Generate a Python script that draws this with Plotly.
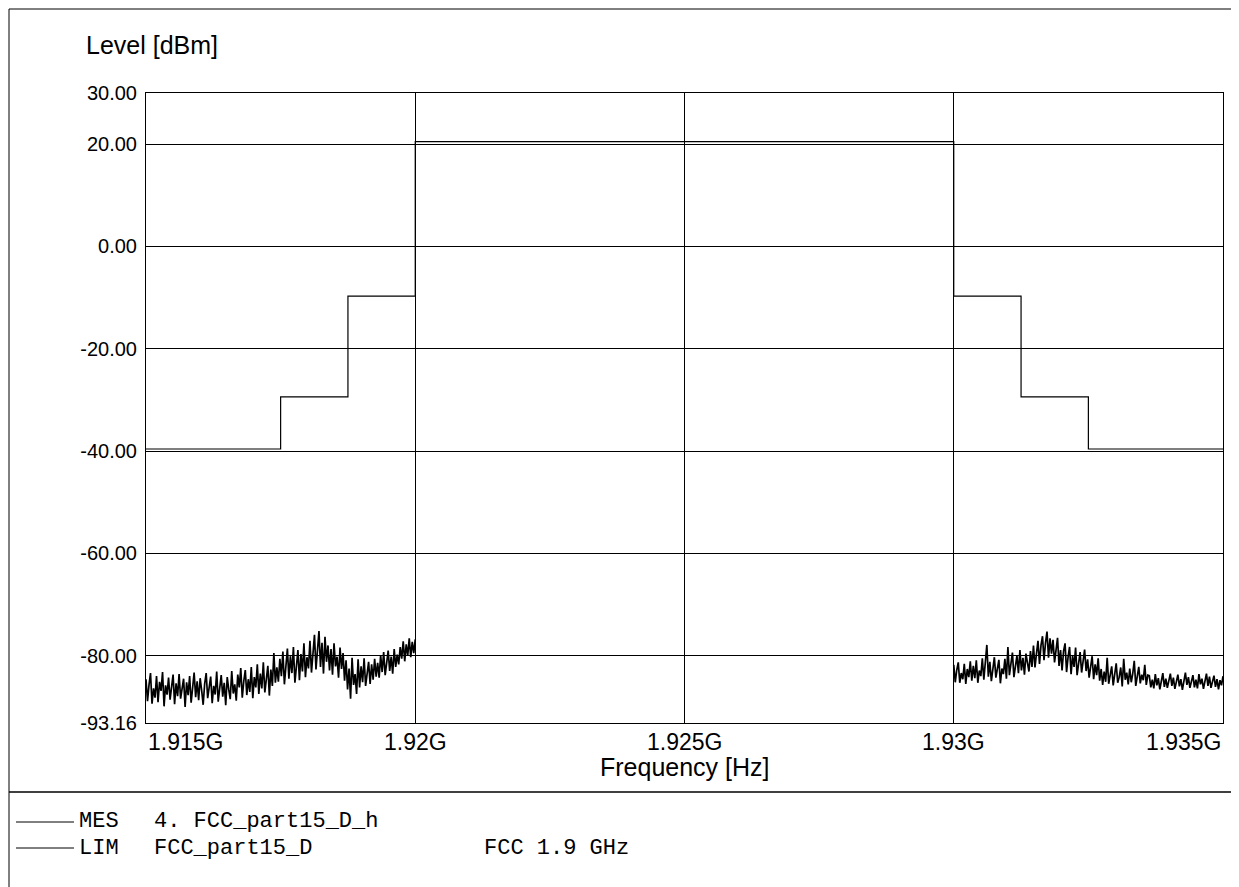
import numpy as np
import plotly.graph_objects as go

# ---------------- data ----------------
y_tickvals = [30, 20, 0, -20, -40, -60, -80, -93.16]
y_ticktext = ["30.00", "20.00", "0.00", "-20.00", "-40.00", "-60.00", "-80.00", "-93.16"]
x_tickvals = [1.915e9, 1.92e9, 1.925e9, 1.93e9, 1.935e9]
x_ticktext = ["1.915G", "1.92G", "1.925G", "1.93G", "1.935G"]

# limit line (step, 'hv')
lim_freq = [1.915e9, 1.9175e9, 1.91875e9, 1.92e9, 1.93e9, 1.93125e9, 1.9325e9, 1.935e9]
lim_level = [-39.6, -29.4, -9.7, 20.5, -9.7, -29.4, -39.6, -39.6]

# measured trace, lower band 1.915 - 1.92 GHz
mes_left_start = 1.915e9
mes_left_stop = 1.92e9
mes_left_level = [
    -84.6, -88.9, -85.7, -83.4, -89.4, -86.4, -88.2, -84.0, -89.1, -85.1,
    -86.9, -83.2, -89.9, -85.8, -87.6, -84.3, -88.6, -86.0, -83.7, -89.5,
    -85.4, -87.9, -83.6, -88.4, -86.7, -84.5, -90.0, -85.2, -87.7, -84.0,
    -89.2, -86.1, -83.3, -88.1, -85.0, -88.7, -84.4, -86.8, -89.6, -85.5,
    -83.4, -88.3, -86.3, -84.1, -89.3, -85.9, -87.6, -83.1, -89.0, -86.5,
    -83.8, -88.0, -85.3, -89.7, -84.2, -86.6, -88.5, -83.0, -87.4, -85.6,
    -88.8, -83.7, -86.2, -82.4, -88.2, -85.0,
    -82.8, -87.7, -84.6, -87.1, -82.2, -88.3, -84.2, -86.2, -81.7, -87.5,
    -83.5, -86.4, -81.3, -87.2, -84.0, -82.0, -87.8, -82.7, -85.9, -79.5,
    -85.3, -82.3,
    -85.1, -80.6, -84.0, -79.2, -85.6, -81.8, -78.6, -84.5, -80.1, -83.4,
    -78.3, -85.3, -81.3, -78.9, -84.8, -79.7, -83.1, -77.6, -84.2, -80.3,
    -82.5,
    -77.1, -83.3, -78.5, -75.9, -82.7, -79.6, -75.2, -82.2, -77.5, -83.5,
    -76.3, -81.2, -78.0, -82.9,
    -78.7, -83.7, -77.6, -82.1, -80.2, -84.3, -78.4, -82.6, -79.5, -84.9,
    -80.9, -86.6, -82.5, -88.4, -80.4, -85.7, -83.6, -87.5, -80.7, -86.2,
    -82.1, -85.2, -80.5, -85.9, -83.1, -81.2, -85.5, -81.7, -84.7, -80.6,
    -84.1, -81.4,
    -84.3, -79.9, -83.2, -79.3, -83.8, -80.7, -79.0, -83.0, -80.2, -83.5,
    -78.7, -82.2, -79.8,
    -81.7, -78.3, -80.6, -77.2, -81.1, -77.8, -80.0, -76.6, -80.3, -77.3,
    -79.5, -76.8,
]

# measured trace, upper band 1.93 - 1.935 GHz
mes_right_start = 1.93e9
mes_right_stop = 1.935e9
mes_right_level = [
    -81.8, -85.2, -82.8, -81.3, -85.3, -83.4, -84.6, -81.6, -85.5, -82.6,
    -84.2, -81.1, -84.9,
    -82.0, -84.4, -80.9, -85.3, -82.9, -84.0, -80.5, -84.7, -81.7, -77.9,
    -84.1, -81.2, -85.0, -82.4, -80.3, -84.3, -82.8, -80.8, -85.4, -82.5,
    -83.6, -80.6,
    -84.5, -78.3, -83.8, -81.0, -79.4, -84.2, -81.8, -80.0, -83.4, -78.9,
    -82.9, -80.4, -83.7, -79.6, -81.4, -83.1, -79.1, -82.2,
    -78.0, -82.3, -79.6, -77.1, -81.6, -78.0, -76.2, -80.9, -77.5, -75.3,
    -80.4, -76.6, -79.6, -76.9, -81.3, -78.5,
    -76.5, -82.0, -78.9, -82.9, -79.1, -77.6, -83.2, -80.3, -78.3, -83.6,
    -80.0, -82.2, -78.4, -83.8, -80.9, -79.3, -83.3, -81.2, -78.8, -83.0,
    -80.7, -84.3, -82.6, -80.1, -84.6, -81.7, -83.8, -80.5,
    -84.9, -82.6, -85.7, -83.1, -85.1, -80.4, -85.5, -83.6, -82.1, -85.8,
    -83.9, -81.5, -85.3, -84.2, -82.3, -86.0, -80.6, -84.7, -83.3, -85.6,
    -82.5, -85.2, -83.5, -81.0, -85.9, -84.0, -82.2, -85.4, -83.7, -84.8,
    -81.8, -85.7, -83.8,
    -83.9, -86.2, -84.7, -86.4, -83.6, -85.8, -84.4, -86.6, -85.0, -83.4,
    -86.1, -84.5, -86.3, -84.9, -83.5, -85.9, -84.3, -86.5, -85.1, -83.7,
    -86.0, -84.6, -86.7, -84.8, -83.3, -85.7, -84.2, -86.3, -85.2, -83.8,
    -86.2, -84.7, -86.4, -83.6, -85.6, -84.5, -86.5, -84.9, -83.5, -85.9,
    -84.1, -86.3, -85.0, -83.9, -86.1, -84.6, -86.6, -84.8, -85.8, -84.0,
]

legend_rows = [("MES", "4. FCC_part15_D_h", ""), ("LIM", "FCC_part15_D", "FCC 1.9 GHz")]

# ---------------- layout geometry (pixels) ----------------
W, H = 1239, 887
L, R, T, B = 138, 24, 85, 172
PW, PH = W - L - R, H - T - B


def px(x):
    return (x - L) / PW


def py(y):
    return (H - B - y) / PH


SANS = "Liberation Sans, Arial, Helvetica, sans-serif"
MONO = "Courier New, Liberation Mono, monospace"

left_freq = np.linspace(mes_left_start, mes_left_stop, len(mes_left_level))
right_freq = np.linspace(mes_right_start, mes_right_stop, len(mes_right_level))

fig = go.Figure()
fig.add_trace(go.Scatter(x=left_freq, y=mes_left_level, mode="lines",
                         line=dict(color="black", width=1.7), showlegend=False,
                         hoverinfo="skip"))
fig.add_trace(go.Scatter(x=right_freq, y=mes_right_level, mode="lines",
                         line=dict(color="black", width=1.7), showlegend=False,
                         hoverinfo="skip"))
fig.add_trace(go.Scatter(x=lim_freq, y=lim_level, mode="lines",
                         line=dict(color="black", width=1.2, shape="hv"),
                         showlegend=False, hoverinfo="skip"))

annotations = []
anchors = ["left", "center", "center", "center", "right"]
for v, t, a in zip(x_tickvals, x_ticktext, anchors):
    annotations.append(dict(x=v, xref="x", y=py(734), yref="paper", text=t,
                            showarrow=False, xanchor=a, yanchor="middle",
                            font=dict(family=SANS, size=23, color="black")))
annotations.append(dict(x=0.5, xref="paper", y=py(759), yref="paper",
                        text="Frequency [Hz]", showarrow=False, xanchor="center",
                        yanchor="middle", font=dict(family=SANS, size=25, color="black")))
annotations.append(dict(x=px(76), xref="paper", y=py(37), yref="paper",
                        text="Level [dBm]", showarrow=False, xanchor="left",
                        yanchor="middle", font=dict(family=SANS, size=25, color="black")))

shapes = []
row_y = [814, 840]
for (a, b, c), yy in zip(legend_rows, row_y):
    shapes.append(dict(type="line", xref="paper", yref="paper", x0=px(8), x1=px(66),
                       y0=py(yy), y1=py(yy), line=dict(color="black", width=1)))
    for txt, xx in ((a, 70), (b, 145), (c, 475)):
        if txt:
            annotations.append(dict(x=px(xx), xref="paper", y=py(yy), yref="paper",
                                    text=txt, showarrow=False, xanchor="left",
                                    yanchor="middle", borderpad=0,
                                    font=dict(family=MONO, size=22, color="black")))

# outer frame and separator
shapes.append(dict(type="line", xref="paper", yref="paper", x0=px(1), x1=px(1239),
                   y0=py(1), y1=py(1), line=dict(color="black", width=1)))
shapes.append(dict(type="line", xref="paper", yref="paper", x0=px(1), x1=px(1),
                   y0=py(1), y1=py(887), line=dict(color="black", width=1)))
shapes.append(dict(type="line", xref="paper", yref="paper", x0=px(1), x1=px(1239),
                   y0=py(784), y1=py(784), line=dict(color="black", width=1.5)))

fig.update_layout(
    width=W, height=H,
    margin=dict(l=L, r=R, t=T, b=B),
    paper_bgcolor="white", plot_bgcolor="white",
    showlegend=False,
    annotations=annotations,
    shapes=shapes,
    xaxis=dict(range=[x_tickvals[0], x_tickvals[-1]], tickvals=x_tickvals[1:-1],
               showticklabels=False, ticks="", showgrid=True, gridcolor="black",
               gridwidth=1, zeroline=False, showline=True, linecolor="black",
               linewidth=1, mirror=True),
    yaxis=dict(range=[y_tickvals[-1], y_tickvals[0]], tickvals=y_tickvals,
               ticktext=y_ticktext, ticks="", ticklabelstandoff=4,
               tickfont=dict(family=SANS, size=20, color="black"),
               showgrid=True, gridcolor="black", gridwidth=1, zeroline=False,
               showline=True, linecolor="black", linewidth=1, mirror=True),
)

fig.write_html("out.html")
